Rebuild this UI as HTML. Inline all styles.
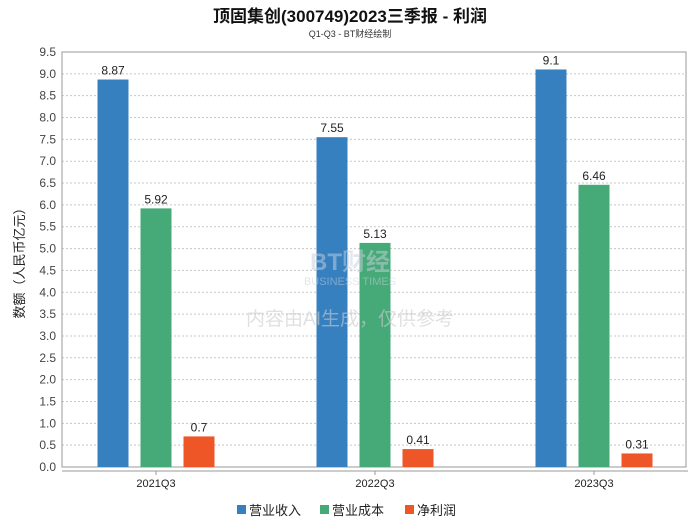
<!DOCTYPE html>
<html><head><meta charset="utf-8"><style>
body{margin:0;background:#fff;}
svg text{font-family:"Liberation Sans","Noto Sans CJK SC",sans-serif;}
</style></head><body>
<svg id="c" width="700" height="524" viewBox="0 0 700 524" xmlns="http://www.w3.org/2000/svg">
<text x="350" y="22" text-anchor="middle" font-size="17" font-weight="bold" fill="#111">顶固集创(300749)2023三季报 - 利润</text>
<text x="350" y="37" text-anchor="middle" font-size="9" fill="#333">Q1-Q3 - BT财经绘制</text>
<text transform="translate(24,260) rotate(-90)" text-anchor="middle" font-size="13" fill="#222">数额（人民币亿元）</text>
<g id="grid"></g><g id="bars"></g>
<text x="350" y="270" text-anchor="middle" font-size="24" font-weight="bold" fill="#c8d0dc" opacity="0.5">BT财经</text>
<text x="350" y="285" text-anchor="middle" font-size="11" fill="#c8d0dc" opacity="0.5">BUSINESS TIMES</text>
<text x="350" y="325" text-anchor="middle" font-size="19" fill="#cccccc" opacity="0.6">内容由AI生成，仅供参考</text>
<g>
<rect x="237" y="505" width="9" height="9" fill="#3680c0"/>
<text x="249" y="515" font-size="13" fill="#222">营业收入</text>
<rect x="320" y="505" width="9" height="9" fill="#45aa78"/>
<text x="332" y="515" font-size="13" fill="#222">营业成本</text>
<rect x="405" y="505" width="9" height="9" fill="#ee5527"/>
<text x="417" y="515" font-size="13" fill="#222">净利润</text>
</g>
</svg>
<script>
const categories=["2021Q3","2022Q3","2023Q3"];
const revenue=[8.87,7.55,9.1];
const cost=[5.92,5.13,6.46];
const profit=[0.7,0.41,0.31];
const ticks=[0,0.5,1,1.5,2,2.5,3,3.5,4,4.5,5,5.5,6,6.5,7,7.5,8,8.5,9,9.5];
const NS="http://www.w3.org/2000/svg";
const L=62,R=686,Y0=467,YT=52,YMAX=9.5;
function y(v){return Y0-(Y0-YT)*v/YMAX;}
function xc(i){return 156+i*219;}
function mk(t,a,p){const e=document.createElementNS(NS,t);for(const k in a)e.setAttribute(k,a[k]);p.appendChild(e);return e;}
const g=document.getElementById('grid');
ticks.forEach(t=>{
 const l=mk('line',{x1:L,x2:R,y1:y(t),y2:y(t),stroke:'#c8c8c8','stroke-dasharray':'2,2'},g);
 
 
 const tx=mk('text',{x:L-6,y:y(t)+4,'text-anchor':'end','font-size':12,fill:'#444'},g);
 tx.textContent=t.toFixed(1);
 
 
});
const fr=mk('rect',{x:L,y:YT,width:R-L,height:Y0-YT,fill:'none',stroke:'#999'},g);


const xa=mk('line',{x1:L,x2:R+2,y1:Y0+4,y2:Y0+4,stroke:'#999'},g);


const b=document.getElementById('bars');
const series=[[revenue,'#3680c0',-43],[cost,'#45aa78',0],[profit,'#ee5527',43]];
categories.forEach((c,i)=>{
 const tk=mk('line',{x1:xc(i),x2:xc(i),y1:Y0+4,y2:Y0+8,stroke:'#999'},b);
 
 
 const t=mk('text',{x:xc(i),y:Y0+20,'text-anchor':'middle','font-size':11,fill:'#222'},b);
 t.textContent=c;
 
 
 series.forEach(([arr,col,off])=>{
  const v=arr[i];
  const r=mk('rect',{x:xc(i)+off-15.5,y:y(v),width:31,height:Y0-y(v),fill:col},b);
  
  
  const lb=mk('text',{x:xc(i)+off,y:y(v)-5,'text-anchor':'middle','font-size':12,fill:'#222'},b);
  lb.textContent=String(v);
  
  
 });
});
</script>
</body></html>
